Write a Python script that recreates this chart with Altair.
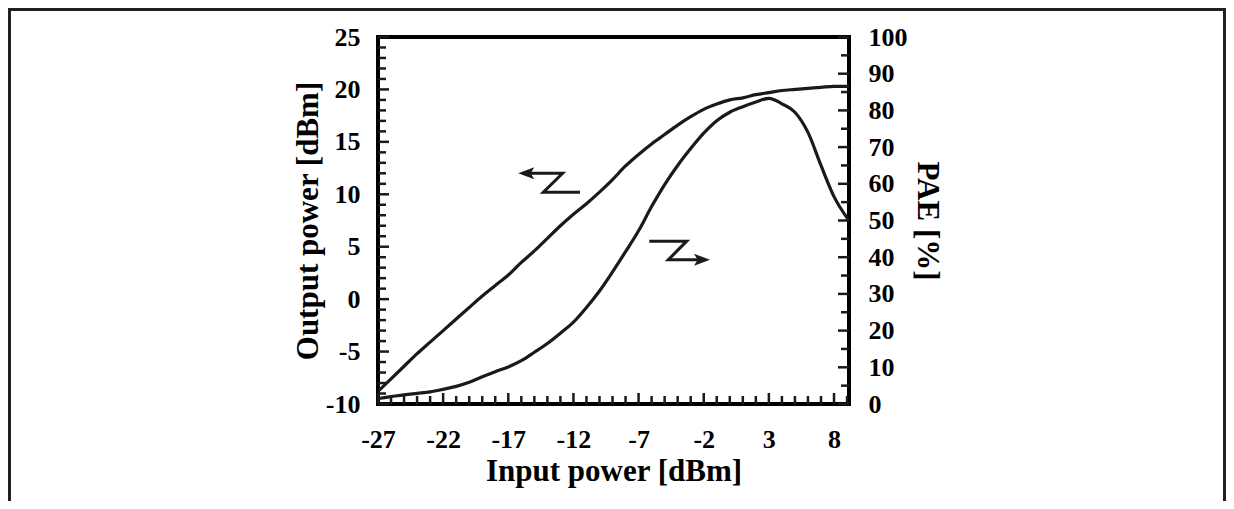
import altair as alt
import pandas as pd

# ---------------- data ----------------
pin = [-27, -26, -25, -24, -23, -22, -21, -20, -19, -18, -17, -16, -15, -14, -13,
       -12, -11, -10, -9, -8, -7, -6, -5, -4, -3, -2, -1, 0, 1, 2, 3, 4, 5, 6, 7, 8, 9.15]
pout = [-8.8, -7.6, -6.4, -5.2, -4.1, -3.0, -1.9, -0.8, 0.3, 1.3, 2.3, 3.5, 4.6, 5.8, 7.0,
        8.1, 9.1, 10.2, 11.4, 12.7, 13.8, 14.8, 15.7, 16.6, 17.4, 18.1, 18.6, 19.0, 19.2,
        19.5, 19.7, 19.9, 20.0, 20.1, 20.2, 20.3, 20.3]
pae = [1.5, 2.0, 2.5, 2.9, 3.3, 4.0, 4.8, 5.9, 7.4, 8.8, 10.1, 11.8, 14.1, 16.5, 19.3,
       22.3, 26.3, 30.8, 36.0, 41.5, 47.2, 53.8, 59.8, 65.0, 69.6, 73.8, 77.2, 79.5, 81.0,
       82.3, 83.3, 81.8, 79.5, 74.0, 65.0, 56.5, 50.0]

x_labels = [-27, -22, -17, -12, -7, -2, 3, 8]
left_labels = [-10, -5, 0, 5, 10, 15, 20, 25]
right_labels = [0, 10, 20, 30, 40, 50, 60, 70, 80, 90, 100]

x_ticks = list(range(-27, 10))
left_ticks = list(range(-10, 26))
right_ticks = list(range(0, 101, 5))

# annotation arrows (data units, left axis)
arrow_out_x = [-15.9, -12.83, -14.31, -11.5]
arrow_out_y = [12.0, 12.0, 10.2, 10.2]
arrow_pae_x = [-6.18, -3.31, -4.72, -1.9]
arrow_pae_y = [5.53, 5.53, 3.75, 3.75]
head_x = [-15.62, -2.13]
head_y = [12.0, 3.75]

# ---------------- layout ----------------
W, H = 471, 367
PAD_L, PAD_T = 370, 29
TOTAL_W, TOTAL_H = 1218, 493
PAD_R = TOTAL_W - PAD_L - W
PAD_B = TOTAL_H - PAD_T - H
FONT = "Liberation Serif"
INK = "#1a1a1a"
LBL = 26
TTL = 31

curves = pd.DataFrame({"pin": pin, "pout": pout, "pae": pae})


def xdef(field):
    return alt.X(f"{field}:Q",
                 scale=alt.Scale(domain=[-27, 9.15], nice=False, zero=False),
                 axis=alt.Axis(values=x_labels, title="Input power [dBm]", orient="bottom",
                               labelExpr="'' + datum.value", labelFlush=False,
                               labelOverlap=False, labelPadding=22, ticks=False,
                               tickSize=0, domain=False, grid=False,
                               labelFont=FONT, labelFontSize=LBL, labelFontWeight="bold",
                               labelColor="black", titleFont=FONT, titleFontSize=TTL,
                               titleFontWeight="bold", titleColor="black", titlePadding=4))


def yl(field):
    return alt.Y(f"{field}:Q",
                 scale=alt.Scale(domain=[-10, 25], nice=False, zero=False),
                 axis=alt.Axis(values=left_labels, title="Output power [dBm]", orient="left",
                               labelExpr="'' + datum.value", labelFlush=False,
                               labelOverlap=False, labelPadding=18, ticks=False,
                               tickSize=0, domain=False, grid=False,
                               labelFont=FONT, labelFontSize=LBL, labelFontWeight="bold",
                               labelColor="black", titleFont=FONT, titleFontSize=TTL,
                               titleFontWeight="bold", titleColor="black", titlePadding=1))


def yr(field):
    return alt.Y(f"{field}:Q",
                 scale=alt.Scale(domain=[0, 100], nice=False, zero=False),
                 axis=alt.Axis(values=right_labels, title="PAE [%]", orient="right",
                               labelExpr="'' + datum.value", labelFlush=False,
                               labelOverlap=False, labelPadding=19, ticks=False,
                               tickSize=0, domain=False, grid=False,
                               labelFont=FONT, labelFontSize=LBL, labelFontWeight="bold",
                               labelColor="black", titleFont=FONT, titleFontSize=TTL,
                               titleFontWeight="bold", titleColor="black", titlePadding=3))


line_out = alt.Chart(curves).mark_line(color=INK, strokeWidth=3.2, clip=True,
                                       interpolate="monotone").encode(
    x=xdef("pin"), y=yl("pout"))
line_pae = alt.Chart(curves).mark_line(color=INK, strokeWidth=3.2, clip=True,
                                       interpolate="monotone").encode(
    x=xdef("pin"), y=yr("pae"))

xt = pd.DataFrame({"t": x_ticks, "major": [v in x_labels for v in x_ticks]})
lt = pd.DataFrame({"t": left_ticks, "major": [v in left_labels for v in left_ticks]})
rt = pd.DataFrame({"t": right_ticks, "major": [v in right_labels for v in right_ticks]})

x_minor = alt.Chart(xt[~xt.major]).mark_rule(color=INK, strokeWidth=2.5).encode(
    x=xdef("t"), y=alt.value(H), y2=alt.value(H - 8))
x_major = alt.Chart(xt[xt.major]).mark_rule(color=INK, strokeWidth=2.5).encode(
    x=xdef("t"), y=alt.value(H), y2=alt.value(H - 11))
l_minor = alt.Chart(lt[~lt.major]).mark_rule(color=INK, strokeWidth=2.5).encode(
    y=yl("t"), x=alt.value(0), x2=alt.value(8))
l_major = alt.Chart(lt[lt.major]).mark_rule(color=INK, strokeWidth=2.5).encode(
    y=yl("t"), x=alt.value(0), x2=alt.value(11))
r_minor = alt.Chart(rt[~rt.major]).mark_rule(color=INK, strokeWidth=2.5).encode(
    y=yr("t"), x=alt.value(W), x2=alt.value(W - 8))
r_major = alt.Chart(rt[rt.major]).mark_rule(color=INK, strokeWidth=2.5).encode(
    y=yr("t"), x=alt.value(W), x2=alt.value(W - 11))

arr1 = alt.Chart(pd.DataFrame({"x": arrow_out_x, "y": arrow_out_y,
                               "o": list(range(len(arrow_out_x)))})).mark_line(
    color=INK, strokeWidth=3).encode(x=xdef("x"), y=yl("y"), order="o:Q")
arr2 = alt.Chart(pd.DataFrame({"x": arrow_pae_x, "y": arrow_pae_y,
                               "o": list(range(len(arrow_pae_x)))})).mark_line(
    color=INK, strokeWidth=3).encode(x=xdef("x"), y=yl("y"), order="o:Q")
heads = pd.DataFrame({"x": head_x, "y": head_y})
head_l = alt.Chart(heads.iloc[[0]]).mark_point(
    shape="M-1,0L1,-0.75L0.55,0L1,0.75Z", size=256, filled=True, opacity=1,
    color=INK, strokeWidth=0).encode(x=xdef("x"), y=yl("y"))
head_r = alt.Chart(heads.iloc[[1]]).mark_point(
    shape="M1,0L-1,-0.75L-0.55,0L-1,0.75Z", size=256, filled=True, opacity=1,
    color=INK, strokeWidth=0).encode(x=xdef("x"), y=yl("y"))

one = pd.DataFrame({"a": [0]})
frame_top = alt.Chart(one).mark_rule(color="#231f20", strokeWidth=3).encode(
    x=alt.value(-PAD_L), x2=alt.value(W + PAD_R), y=alt.value(-PAD_T + 1.5))
frame_left = alt.Chart(one).mark_rule(color="#231f20", strokeWidth=3).encode(
    x=alt.value(-PAD_L + 1.5), y=alt.value(-PAD_T), y2=alt.value(H + PAD_B))
frame_right = alt.Chart(one).mark_rule(color="#231f20", strokeWidth=3).encode(
    x=alt.value(W + PAD_R - 1.5), y=alt.value(-PAD_T), y2=alt.value(H + PAD_B))

left = alt.layer(line_out, x_minor, x_major, l_minor, l_major, arr1, arr2, head_l, head_r)
right = alt.layer(line_pae, r_minor, r_major)
frame = alt.layer(frame_top, frame_left, frame_right)

chart = alt.layer(left, right, frame).resolve_scale(y="independent").properties(
    width=W, height=H,
    autosize=alt.AutoSizeParams(type="none"),
    padding={"left": PAD_L, "top": PAD_T, "right": PAD_R, "bottom": PAD_B},
    background="white",
).configure_view(stroke="black", strokeWidth=4)

chart.save("out.html", embed_options={"renderer": "svg", "actions": False})
